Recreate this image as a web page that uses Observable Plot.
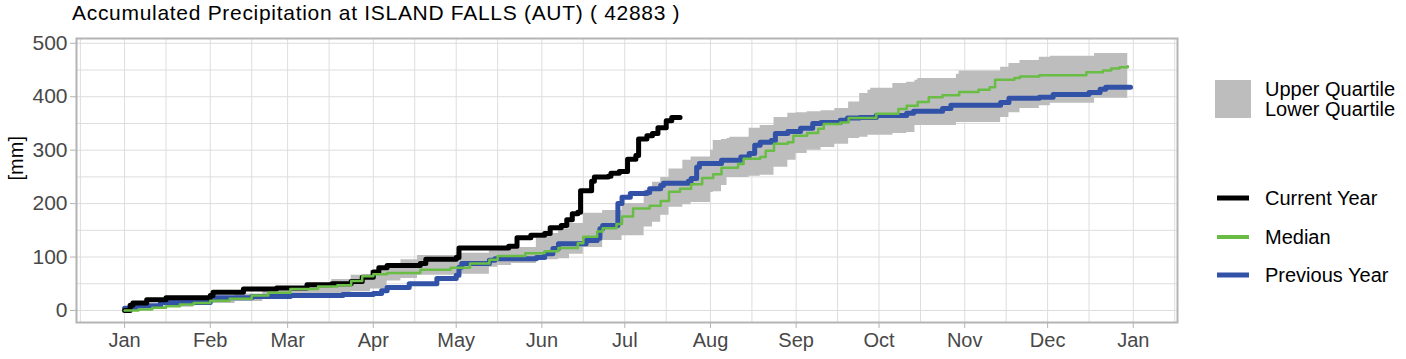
<!DOCTYPE html>
<html>
<head>
<meta charset="utf-8">
<script src="https://cdn.jsdelivr.net/npm/d3@7"></script>
<script src="https://cdn.jsdelivr.net/npm/@observablehq/plot@0.6"></script>
<style>
  html, body { margin: 0; padding: 0; background: #fff; }
  #wrap { position: relative; width: 1406px; height: 359px; font-family: "Liberation Sans", Arial, sans-serif; }
  #overlay { position: absolute; left: 0; top: 0; pointer-events: none; }
</style>
</head>
<body>
<div id="wrap"></div>
<script>
// ---------- data (day of year, value in mm) ----------
const title = "Accumulated Precipitation at ISLAND FALLS (AUT) ( 42883 )";
const yLabel = "[mm]";
const monthLabels = ["Jan","Feb","Mar","Apr","May","Jun","Jul","Aug","Sep","Oct","Nov","Dec","Jan"];
const yTicks = [0, 100, 200, 300, 400, 500];
const legendBand = ["Upper Quartile", "Lower Quartile"];
const legendLines = ["Current Year", "Median", "Previous Year"];

// quartile band: day, lower, upper
const bandDays  = [0, 8, 15, 25, 31, 40, 50, 59, 66, 75, 82, 89, 95, 100, 106, 120, 132, 135, 140, 149, 152, 157, 161, 166, 173, 180, 188, 191, 194, 197, 202, 205, 212, 213, 216, 218, 219, 226, 230, 235, 240, 243, 247, 252, 257, 262, 266, 269, 270, 278, 283, 286, 287, 301, 302, 317, 320, 324, 331, 335, 351, 363];
const bandLower = [0, 3, 6, 10, 13, 17, 22, 27, 30, 32, 35, 40, 55, 60, 66, 68, 81, 84, 88, 94, 95, 97, 105, 118, 131, 140, 156, 165, 178, 193, 198, 202, 221, 222, 234, 249, 249, 251, 253, 268, 281, 294, 300, 305, 311, 322, 324, 328, 328, 331, 333, 346, 346, 352, 352, 361, 370, 378, 383, 388, 397, 403];
const bandUpper = [3, 9, 14, 20, 25, 31, 37, 43, 50, 58, 66, 75, 85, 95, 103, 107, 112, 116, 118, 135, 144, 153, 163, 182, 187, 200, 225, 240, 249, 265, 281, 287, 300, 318, 320, 322, 324, 341, 346, 361, 369, 370, 372, 374, 378, 390, 406, 412, 416, 425, 427, 431, 434, 442, 448, 455, 462, 468, 474, 476, 481, 485];

// median
const medianDays = [0, 5, 10, 15, 20, 25, 31, 38, 46, 52, 60, 70, 77, 82, 86, 90, 95, 107, 118, 125, 132, 135, 145, 152, 157, 164, 166, 171, 173, 178, 180, 184, 190, 194, 197, 201, 205, 209, 213, 216, 222, 224, 230, 232, 235, 240, 242, 247, 251, 253, 259, 262, 272, 280, 283, 287, 291, 296, 302, 309, 313, 315, 322, 324, 331, 348, 354, 357, 360, 363];
const medianVals = [0, 2, 5, 8, 11, 14, 18, 22, 28, 33, 40, 45, 47, 55, 64, 68, 70, 76, 80, 88, 95, 102, 107, 111, 117, 126, 138, 148, 154, 162, 176, 191, 196, 205, 222, 228, 236, 248, 255, 267, 274, 284, 287, 299, 312, 315, 327, 332, 340, 349, 352, 360, 368, 377, 383, 390, 399, 403, 409, 413, 418, 432, 435, 438, 440, 446, 449, 453, 455, 457];

// previous year
const prevDays = [0, 4, 13, 31, 46, 60, 79, 90, 93, 95, 103, 113, 120, 121, 122, 132, 134, 149, 152, 155, 157, 166, 167, 171, 172, 173, 178, 178.5, 180, 183, 189, 190, 194, 195, 204, 205, 207, 208, 216, 223, 226, 228, 230, 234, 235.5, 240, 244.6, 249, 252, 259, 261.6, 266, 272, 283, 285.5, 296, 299, 317, 320, 331, 336, 349, 353, 355, 364];
const prevVals = [4, 9, 15, 24, 26, 28, 30, 32, 37, 43, 50, 60, 66, 81, 88, 94, 97, 99, 106, 116, 125, 125, 131, 135, 153, 159, 159, 200, 212, 219, 221, 228, 234, 238, 242, 247, 268, 275, 281, 287, 294, 309, 315, 318, 331, 335, 341, 350, 352, 356, 360, 361, 365, 369, 373, 378, 384, 389, 397, 399, 404, 408, 414, 418, 418];

// current year
const curDays = [0, 2, 3, 8, 15, 31, 32, 43, 55, 66, 75, 82, 86, 90, 92, 95, 107, 109, 120, 121, 139, 142, 147, 152, 154, 158, 160, 162, 164, 165, 169, 170, 175, 176, 179, 182, 185, 186, 189, 191, 193, 196, 198, 201];
const curVals = [0, 10, 14, 20, 24, 28, 34, 40, 42, 48, 50, 54, 62, 72, 80, 84, 88, 96, 99, 117, 120, 136, 141, 144, 155, 159, 170, 181, 184, 224, 242, 250, 251, 257, 260, 283, 290, 321, 327, 331, 342, 355, 361, 361];

// ---------- build tables ----------
const T0 = Date.UTC(2023, 0, 1);
const toDate = d => new Date(T0 + d * 864e5);
const band = bandDays.map((d, i) => ({date: toDate(d), lo: bandLower[i], hi: bandUpper[i]}));
const median = medianDays.map((d, i) => ({date: toDate(d), v: medianVals[i]}));
const prev = prevDays.map((d, i) => ({date: toDate(d), v: prevVals[i]}));
const cur = curDays.map((d, i) => ({date: toDate(d), v: curVals[i]}));

const monthTicks = d3.range(13).map(m => new Date(Date.UTC(2023, m, 1)));
const midTicks = d3.range(-1, 13).map(m => new Date(Date.UTC(2023, m, 16)));

const cGray = "#bdbdbd", cGreen = "#69bd45", cBlue = "#3252a8", cBlack = "#000000";
const font = "'Liberation Sans', Arial, sans-serif";

const chart = Plot.plot({
  width: 1406,
  height: 359,
  marginLeft: 76,
  marginRight: 229,
  marginTop: 38,
  marginBottom: 37,
  style: {fontFamily: font, background: "#fff"},
  x: {type: "utc", domain: [toDate(-17.4), toDate(381)]},
  y: {domain: [-22.5, 509]},
  marks: [
    Plot.gridY(d3.range(0, 501, 50), {stroke: "#dddddd", strokeOpacity: 1, strokeWidth: 1}),
    Plot.gridX([...monthTicks, ...midTicks], {stroke: "#dddddd", strokeOpacity: 1, strokeWidth: 1}),
    Plot.areaY(band, {x: "date", y1: "lo", y2: "hi", fill: cGray, fillOpacity: 1, curve: "step-after"}),
    Plot.lineY(prev, {x: "date", y: "v", stroke: cBlue, strokeWidth: 5, curve: "step-after"}),
    Plot.lineY(cur, {x: "date", y: "v", stroke: cBlack, strokeWidth: 5, curve: "step-after"}),
    Plot.lineY(median, {x: "date", y: "v", stroke: cGreen, strokeWidth: 2.5, curve: "step-after"}),
    Plot.frame({stroke: "#b4b4b4", strokeWidth: 2}),
    Plot.axisY({ticks: yTicks, tickSize: 6, tickPadding: 3, stroke: "#b4b4b4", fill: "#484848", fontSize: 21, label: null}),
    Plot.axisX({ticks: monthTicks, tickSize: 6, tickPadding: 4, stroke: "#b4b4b4", fill: "#484848", fontSize: 20,
      tickFormat: d => monthLabels[d.getUTCMonth() + (d.getUTCFullYear() > 2023 ? 12 : 0)], label: null}),
    Plot.text([yLabel], {text: d => d, frameAnchor: "left", dx: -60, rotate: -90, fontSize: 20, fill: "#000"})
  ]
});
document.getElementById("wrap").appendChild(chart);

// ---------- title & legend overlay ----------
const svg = d3.select("#wrap").append("svg").attr("id", "overlay")
  .attr("width", 1406).attr("height", 359)
  .style("font-family", font);

svg.append("text").attr("x", 72).attr("y", 20).attr("font-size", 21).attr("letter-spacing", "0.7px")
  .attr("fill", "#000").text(title);

svg.append("rect").attr("x", 1215).attr("y", 80).attr("width", 36).attr("height", 38).attr("fill", cGray);
legendBand.forEach((t, i) => {
  svg.append("text").attr("x", 1265).attr("y", 96 + i * 20).attr("font-size", 20).attr("fill", "#000").text(t);
});
const legendColors = [cBlack, cGreen, cBlue];
const legendY = [198, 237, 275];
legendLines.forEach((t, i) => {
  svg.append("line").attr("x1", 1217).attr("x2", 1249).attr("y1", legendY[i]).attr("y2", legendY[i])
    .attr("stroke", legendColors[i]).attr("stroke-width", i === 1 ? 4 : 5);
  svg.append("text").attr("x", 1265).attr("y", legendY[i] + 7).attr("font-size", 20).attr("fill", "#000").text(t);
});
</script>
</body>
</html>
